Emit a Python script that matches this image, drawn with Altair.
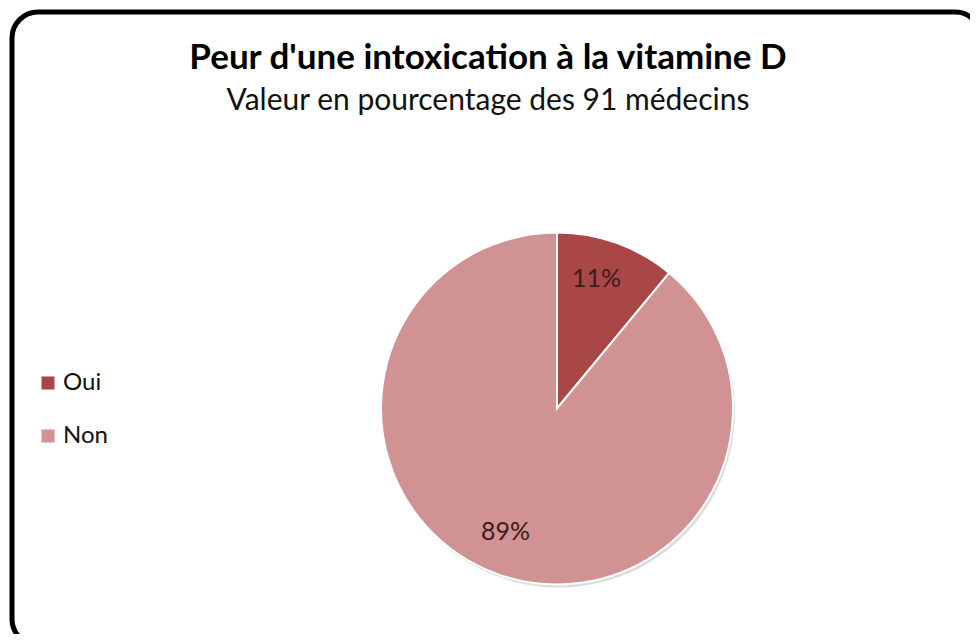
import altair as alt
import pandas as pd

categories = ["Oui", "Non"]
values = [11, 89]
labels = ["11%", "89%"]
colors = ["#A94646", "#D09292"]

title_text = "Peur d'une intoxication à la vitamine D"
subtitle_text = "Valeur en pourcentage des 91 médecins"

df = pd.DataFrame({"cat": categories, "value": values, "label": labels,
                   "ord": list(range(len(categories)))})

CX, CY, R = 549, 400.5, 176
FONT = "Lato"

base = alt.Chart(df)

shadow = base.mark_arc(outerRadius=R, color="#9a9a9a", opacity=0.35).encode(
    theta=alt.Theta("value:Q", stack=True),
    order=alt.Order("ord:Q"),
    x=alt.value(CX + 2), y=alt.value(CY + 3),
)

pie = base.mark_arc(outerRadius=R, stroke="white", strokeWidth=2).encode(
    theta=alt.Theta("value:Q", stack=True),
    order=alt.Order("ord:Q"),
    color=alt.Color("cat:N", scale=alt.Scale(domain=categories, range=colors),
                    sort=categories,
                    legend=alt.Legend(title=None, orient="none", legendX=28, legendY=363,
                                      symbolType="square", symbolSize=170,
                                      symbolStrokeWidth=0,
                                      labelFontSize=24, labelFont=FONT, labelColor="#111111",
                                      labelOffset=3, rowPadding=29, padding=0)),
    x=alt.value(CX), y=alt.value(CY),
)

lbl = base.mark_text(radius=134, fontSize=25, font=FONT, color="#3a1c1c",
                     dx=-6, dy=-3).encode(
    theta=alt.Theta("value:Q", stack=True),
    order=alt.Order("ord:Q"),
    text="label:N",
    x=alt.value(CX), y=alt.value(CY),
)

one = alt.Data(values=[{"t": title_text, "s": subtitle_text}])

title = alt.Chart(one).mark_text(fontSize=35, fontWeight="bold", font=FONT,
                                 color="#000000", baseline="middle").encode(
    text="t:N", x=alt.value(480), y=alt.value(50))
subtitle = alt.Chart(one).mark_text(fontSize=30, font=FONT, color="#111111",
                                    baseline="middle").encode(
    text="s:N", x=alt.value(480), y=alt.value(93))

border = alt.Chart(one).mark_rect(filled=False, stroke="black", strokeWidth=5,
                                  cornerRadius=26).encode(
    x=alt.value(4), x2=alt.value(973), y=alt.value(4), y2=alt.value(637))

chart = alt.layer(border, title, subtitle, shadow, pie, lbl).properties(
    width=962, height=626, padding=0,
    autosize=alt.AutoSizeParams(type="none"),
).configure_view(stroke=None)

chart.save("out.html", embed_options={"renderer": "svg", "actions": False})
